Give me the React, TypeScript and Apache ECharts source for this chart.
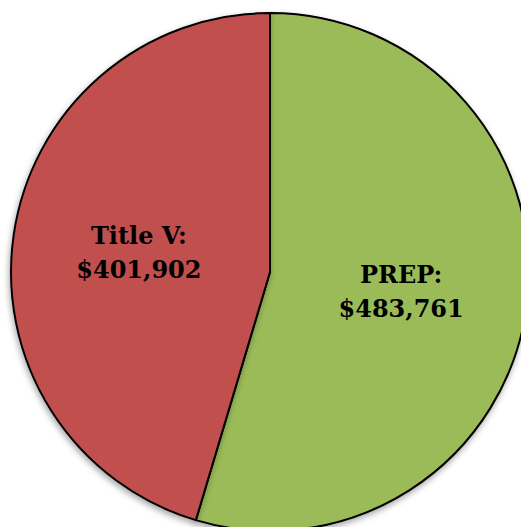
import React, { useEffect, useRef } from "react";
import * as echarts from "echarts";

const categories = ["PREP", "Title V"];
const values = [483761, 401902];
const colors = ["#9BBB59", "#C0504D"];

export default function App() {
  const ref = useRef<HTMLDivElement>(null);
  useEffect(() => {
    if (!ref.current) return;
    const chart = echarts.init(ref.current, null, { renderer: "svg" });
    chart.setOption({
      animation: false,
      backgroundColor: "#ffffff",
      series: [
        {
          type: "pie",
          center: [270, 272],
          radius: [0, 259],
          startAngle: 90,
          clockwise: true,
          data: categories.map((c, i) => ({
            name: c,
            value: values[i],
            itemStyle: { color: colors[i] },
          })),
          itemStyle: {
            borderColor: "#000000",
            borderWidth: 2,
            shadowBlur: 6,
            shadowColor: "rgba(0,0,0,0.35)",
            shadowOffsetX: -1,
            shadowOffsetY: 3,
          },
          label: {
            show: true,
            position: "inside",
            formatter: (p: any) =>
              p.name + ":\n$" + Number(p.value).toLocaleString("en-US"),
            color: "#000000",
            fontFamily: "DejaVu Serif",
            fontWeight: "bold",
            fontSize: 24,
            lineHeight: 34,
            align: "center",
          },
          labelLine: { show: false },
          emphasis: { disabled: true },
        },
      ],
    });
    return () => chart.dispose();
  }, []);
  return (
    <div
      ref={ref}
      style={{ position: "fixed", left: 0, top: 0, width: 521, height: 527 }}
    />
  );
}
